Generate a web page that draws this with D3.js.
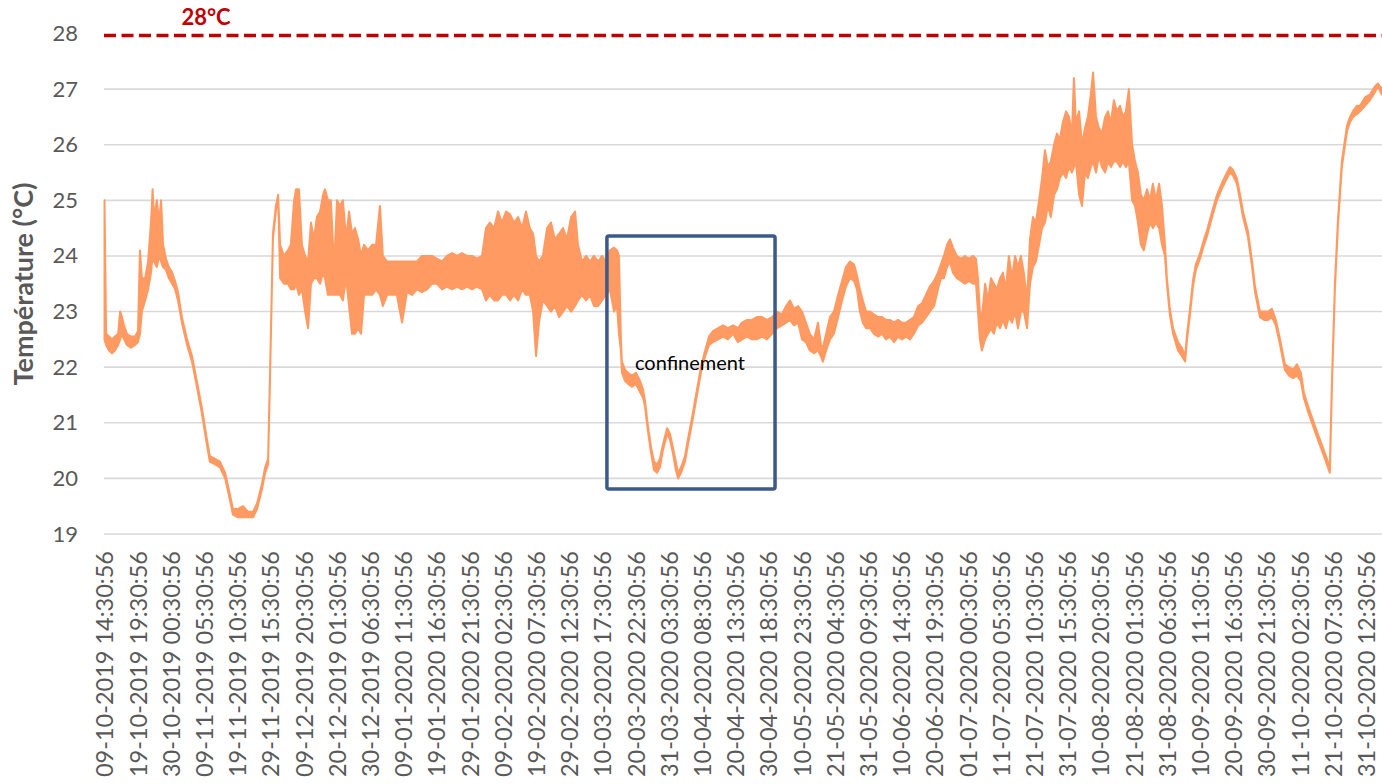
<!DOCTYPE html>
<html lang="fr">
<head>
<meta charset="UTF-8" />
<title>Température</title>
<script src="https://d3js.org/d3.v7.min.js"></script>
<style>
  body { margin: 0; background: #fff; }
  svg { display: block; font-family: Lato, "Open Sans", sans-serif; }
</style>
</head>
<body>
<div id="chart"></div>
<script>
  // x labels (one every 10 days 5 hours)
  const tickLabels = [
    "09-10-2019 14:30:56", "19-10-2019 19:30:56", "30-10-2019 00:30:56", "09-11-2019 05:30:56",
    "19-11-2019 10:30:56", "29-11-2019 15:30:56", "09-12-2019 20:30:56", "20-12-2019 01:30:56",
    "30-12-2019 06:30:56", "09-01-2020 11:30:56", "19-01-2020 16:30:56", "29-01-2020 21:30:56",
    "09-02-2020 02:30:56", "19-02-2020 07:30:56", "29-02-2020 12:30:56", "10-03-2020 17:30:56",
    "20-03-2020 22:30:56", "31-03-2020 03:30:56", "10-04-2020 08:30:56", "20-04-2020 13:30:56",
    "30-04-2020 18:30:56", "10-05-2020 23:30:56", "21-05-2020 04:30:56", "31-05-2020 09:30:56",
    "10-06-2020 14:30:56", "20-06-2020 19:30:56", "01-07-2020 00:30:56", "11-07-2020 05:30:56",
    "21-07-2020 10:30:56", "31-07-2020 15:30:56", "10-08-2020 20:30:56", "21-08-2020 01:30:56",
    "31-08-2020 06:30:56", "10-09-2020 11:30:56", "20-09-2020 16:30:56", "30-09-2020 21:30:56",
    "11-10-2020 02:30:56", "21-10-2020 07:30:56", "31-10-2020 12:30:56"
  ];

  const yTicks = [19, 20, 21, 22, 23, 24, 25, 26, 27, 28];
  const limitTemp = 28;

  // confinement box: days since start, temperatures
  const confDays = [154.5, 206.2];
  const confTemps = [19.81, 24.36];

  // days since 09-10-2019 14:30:56, with min / max temperature seen around that time
  const day = [
    0, 0.5, 1.4, 2.3, 3.2, 4.2, 4.8, 5.4, 6.0, 6.9, 8.1, 9.4, 10.3, 10.9, 11.5, 12.5, 13.4, 14.3, 14.8, 15.2,
    16.1, 16.8, 17.4, 18.0, 18.9, 19.8, 20.8, 21.7, 22.6, 23.8, 25.4, 26.9, 28.4, 30.0, 31.5, 32.4, 34.0, 35.5, 37.1, 38.6,
    39.5, 41.1, 42.6, 44.1, 45.7, 46.9, 48.4, 49.4, 50.3, 50.9, 51.8, 52.7, 53.4, 54.0, 55.2, 56.4, 57.3, 58.3, 58.9, 59.8,
    60.7, 61.7, 62.6, 63.5, 64.4, 65.3, 66.3, 67.2, 67.8, 68.7, 69.6, 70.6, 71.5, 72.4, 73.3, 74.3, 75.2, 76.1, 77.0, 78.0,
    78.9, 79.8, 81.0, 82.3, 83.5, 84.7, 85.6, 86.9, 88.4, 89.9, 91.5, 93.0, 94.6, 96.1, 97.6, 99.2, 100.7, 102.2, 103.8, 105.3,
    106.9, 108.4, 109.9, 111.5, 113.0, 114.5, 116.1, 117.3, 118.5, 119.8, 121.0, 122.2, 123.5, 124.7, 125.9, 127.2, 128.4, 129.6, 130.8, 131.8,
    132.7, 133.6, 134.8, 136.1, 137.3, 138.5, 139.8, 141.0, 142.2, 143.5, 144.7, 145.6, 146.8, 148.1, 149.3, 150.5, 151.8, 153.0, 154.2, 155.4,
    156.7, 157.6, 158.2, 158.8, 159.1, 160.1, 161.0, 162.2, 163.4, 164.7, 165.6, 166.2, 167.1, 168.1, 169.0, 169.9, 170.8, 171.7, 173.0, 173.9,
    174.8, 175.7, 176.4, 177.3, 178.5, 179.4, 180.7, 181.6, 182.5, 183.4, 184.7, 185.9, 187.1, 188.7, 190.2, 191.7, 193.3, 194.8, 196.0, 197.6,
    199.1, 200.6, 202.2, 203.7, 205.3, 206.8, 208.3, 209.6, 210.8, 212.0, 213.3, 214.5, 215.7, 216.9, 218.2, 219.4, 220.3, 220.9, 221.9, 223.1,
    224.3, 225.6, 226.8, 228.0, 229.2, 230.5, 231.4, 232.3, 233.2, 234.2, 235.4, 236.6, 237.9, 239.1, 240.3, 241.5, 242.8, 244.0, 245.2, 246.5,
    247.7, 248.9, 250.2, 251.4, 252.6, 253.8, 255.1, 256.3, 257.2, 258.1, 259.1, 260.0, 260.9, 262.1, 263.4, 264.6, 265.8, 267.1, 268.0, 268.6,
    269.2, 269.8, 270.8, 271.7, 272.6, 273.5, 274.4, 275.4, 276.3, 277.2, 278.1, 279.1, 280.0, 280.9, 281.8, 282.7, 283.7, 284.6, 285.5, 286.4,
    287.4, 288.3, 289.2, 290.1, 291.0, 292.0, 292.9, 293.8, 294.7, 295.7, 296.6, 297.5, 298.1, 298.7, 299.7, 300.6, 301.5, 302.4, 303.3, 304.0,
    304.9, 305.8, 306.7, 307.7, 308.6, 309.5, 310.4, 311.3, 312.3, 313.2, 314.1, 315.0, 316.0, 316.9, 317.8, 318.7, 319.6, 320.6, 321.5, 322.4,
    323.3, 324.3, 325.2, 326.1, 326.7, 327.6, 328.6, 330.1, 331.3, 332.3, 332.9, 333.8, 334.7, 335.6, 336.9, 338.1, 339.0, 340.6, 342.1, 343.9,
    345.2, 346.1, 347.0, 348.2, 349.2, 350.1, 351.6, 352.9, 353.8, 355.3, 356.6, 357.8, 359.0, 360.2, 361.5, 363.0, 364.2, 365.5, 366.7, 367.9,
    368.8, 370.1, 371.6, 373.1, 374.7, 375.9, 376.8, 377.5, 378.4, 379.3, 380.5, 382.1, 383.0, 383.9, 385.1, 386.1, 387.6, 389.1, 390.7, 391.6,
    392.8
  ];

  const tLow = [
    22.5, 22.4, 22.3, 22.25, 22.3, 22.4, 22.5, 22.6, 22.5, 22.4, 22.35, 22.4, 22.45, 22.6, 23.0, 23.2, 23.4, 23.7, 24.0, 23.9,
    23.8, 24.0, 23.9, 23.8, 23.75, 23.6, 23.5, 23.4, 23.2, 22.8, 22.4, 22.1, 21.65, 21.15, 20.6, 20.3, 20.25, 20.2, 20.0, 19.6,
    19.35, 19.3, 19.3, 19.3, 19.3, 19.45, 19.8, 20.1, 20.25, 21.8, 24.3, 24.8, 25.05, 23.6, 23.5, 23.5, 23.4, 23.4, 23.5, 23.3,
    23.4, 23.0, 22.7, 23.5, 23.6, 23.6, 23.5, 23.7, 23.6, 23.3, 23.3, 23.3, 23.3, 23.3, 23.2, 23.6, 23.1, 22.6, 22.6, 22.7,
    22.6, 23.3, 23.3, 23.3, 23.4, 23.3, 23.1, 23.3, 23.3, 23.3, 22.8, 23.35, 23.3, 23.4, 23.35, 23.4, 23.5, 23.5, 23.4, 23.45,
    23.4, 23.45, 23.4, 23.45, 23.4, 23.45, 23.4, 23.2, 23.3, 23.2, 23.2, 23.3, 23.3, 23.2, 23.3, 23.2, 23.4, 23.3, 23.3, 23.0,
    22.2, 22.8, 23.2, 23.1, 23.0, 23.1, 22.9, 23.0, 23.1, 23.0, 23.1, 23.2, 23.3, 23.2, 23.3, 23.1, 23.1, 23.2, 23.3, 23.4,
    23.0, 23.1, 22.6, 22.3, 21.9, 21.75, 21.7, 21.65, 21.7, 21.55, 21.45, 21.3, 20.85, 20.45, 20.15, 20.1, 20.2, 20.5, 20.8, 20.7,
    20.45, 20.15, 20.0, 20.1, 20.3, 20.6, 21.0, 21.3, 21.6, 21.9, 22.2, 22.4, 22.45, 22.5, 22.55, 22.5, 22.6, 22.45, 22.5, 22.55,
    22.5, 22.5, 22.55, 22.5, 22.6, 22.7, 22.75, 22.8, 22.85, 22.75, 22.8, 22.5, 22.45, 22.3, 22.25, 22.3, 22.2, 22.1, 22.3, 22.5,
    22.6, 22.9, 23.2, 23.45, 23.6, 23.55, 23.4, 23.0, 22.8, 22.7, 22.7, 22.6, 22.55, 22.6, 22.5, 22.55, 22.45, 22.55, 22.5, 22.55,
    22.5, 22.6, 22.75, 22.8, 22.9, 23.0, 23.1, 23.4, 23.6, 23.6, 23.8, 23.9, 23.7, 23.6, 23.55, 23.5, 23.55, 23.5, 23.5, 23.0,
    22.5, 22.3, 22.5, 22.6, 22.7, 22.6, 22.8, 22.7, 22.85, 22.7, 22.9, 22.8, 23.0, 22.7, 23.0, 23.0, 22.7, 23.5, 23.8, 23.9,
    24.2, 24.5, 24.6, 24.9, 24.7, 25.1, 25.2, 25.4, 25.5, 25.4, 25.6, 25.5, 25.6, 25.7, 25.1, 24.9, 25.5, 25.4, 25.6, 25.7,
    25.5, 25.8, 25.6, 25.5, 25.7, 25.6, 25.7, 25.7, 25.6, 25.7, 25.6, 25.7, 25.0, 24.9, 24.6, 24.2, 24.1, 24.4, 24.6, 24.5,
    24.6, 24.5, 24.2, 24.0, 23.5, 22.95, 22.6, 22.3, 22.2, 22.1, 22.5, 22.95, 23.45, 23.75, 23.95, 24.2, 24.35, 24.7, 25.0, 25.25,
    25.4, 25.5, 25.45, 25.3, 25.0, 24.7, 24.35, 23.8, 23.35, 22.9, 22.85, 22.85, 22.9, 22.75, 22.4, 21.95, 21.85, 21.8, 21.85, 21.75,
    21.45, 21.2, 20.95, 20.7, 20.45, 20.25, 20.1, 21.75, 23.45, 24.55, 25.6, 26.25, 26.4, 26.5, 26.55, 26.6, 26.7, 26.8, 26.95, 27.05,
    26.9
  ];

  const tHigh = [
    25.0, 22.6, 22.55, 22.5, 22.55, 22.6, 23.0, 22.9, 22.75, 22.6, 22.55, 22.55, 22.65, 24.1, 23.6, 23.6, 23.9, 24.6, 25.2, 24.7,
    25.0, 24.6, 25.0, 24.2, 23.95, 23.8, 23.7, 23.55, 23.35, 22.9, 22.5, 22.2, 21.75, 21.25, 20.7, 20.4, 20.35, 20.3, 20.1, 19.7,
    19.45, 19.45, 19.5, 19.4, 19.4, 19.55, 19.9, 20.2, 20.35, 21.9, 24.4, 24.9, 25.1, 24.2, 24.0, 24.1, 24.2, 25.0, 25.2, 25.2,
    24.2, 24.0, 23.9, 24.6, 24.3, 24.7, 24.8, 25.1, 25.2, 25.0, 25.0, 23.8, 25.0, 24.9, 25.0, 24.3, 24.8, 24.4, 24.5, 24.3,
    24.0, 24.2, 24.1, 24.2, 24.2, 24.9, 24.0, 23.9, 23.9, 23.9, 23.9, 23.9, 23.9, 23.9, 24.0, 24.0, 24.0, 23.95, 23.9, 24.0,
    24.05, 24.0, 24.05, 24.0, 24.0, 23.95, 24.0, 24.5, 24.6, 24.5, 24.8, 24.6, 24.8, 24.75, 24.6, 24.7, 24.5, 24.8, 24.5, 24.4,
    24.0, 23.9, 24.0, 24.5, 24.6, 24.3, 24.4, 24.5, 24.3, 24.7, 24.8, 24.2, 23.9, 24.0, 23.9, 24.0, 23.9, 24.0, 23.9, 24.1,
    24.15, 24.1, 24.0, 22.5, 22.1, 21.95, 21.9, 21.85, 21.9, 21.75, 21.6, 21.4, 20.95, 20.55, 20.3, 20.25, 20.35, 20.6, 20.9, 20.8,
    20.55, 20.3, 20.1, 20.2, 20.4, 20.7, 21.1, 21.4, 21.7, 22.0, 22.3, 22.55, 22.65, 22.7, 22.75, 22.7, 22.75, 22.7, 22.8, 22.85,
    22.85, 22.9, 22.9, 22.85, 22.9, 23.0, 22.95, 23.1, 23.2, 23.05, 23.1, 23.0, 22.8, 22.6, 22.5, 22.8, 22.4, 22.35, 22.6, 22.9,
    23.0, 23.3, 23.55, 23.8, 23.9, 23.85, 23.65, 23.4, 23.2, 23.0, 23.0, 22.95, 22.9, 22.9, 22.85, 22.85, 22.8, 22.85, 22.8, 22.8,
    22.85, 22.9, 23.1, 23.15, 23.3, 23.45, 23.55, 23.7, 23.85, 24.0, 24.2, 24.3, 24.15, 24.0, 23.95, 24.0, 23.95, 24.0, 23.95, 23.6,
    23.0, 22.9, 23.5, 23.2, 23.6, 23.5, 23.4, 23.6, 23.7, 23.4, 24.0, 23.6, 24.0, 23.8, 24.0, 23.7, 23.2, 24.3, 24.7, 24.6,
    25.0, 25.4, 25.9, 25.6, 25.7, 26.0, 26.2, 26.1, 26.4, 26.6, 26.5, 26.2, 27.2, 26.4, 26.6, 26.0, 26.3, 26.5, 26.9, 27.3,
    26.5, 26.3, 26.2, 26.5, 26.6, 26.4, 26.8, 26.6, 26.7, 26.5, 26.6, 27.0, 26.0, 25.7, 25.5, 25.1, 25.0, 25.2, 25.0, 25.3,
    25.0, 25.3, 24.9, 24.2, 23.6, 23.05, 22.7, 22.45, 22.35, 22.2, 22.6, 23.05, 23.55, 23.85, 24.05, 24.3, 24.45, 24.8, 25.1, 25.35,
    25.5, 25.6, 25.55, 25.4, 25.1, 24.8, 24.45, 23.9, 23.45, 23.0, 23.0, 23.0, 23.05, 22.85, 22.5, 22.05, 22.0, 21.95, 22.05, 21.9,
    21.55, 21.3, 21.05, 20.8, 20.55, 20.35, 20.2, 21.85, 23.55, 24.65, 25.7, 26.35, 26.5, 26.6, 26.7, 26.7, 26.85, 26.9, 27.05, 27.1,
    27.0
  ];

  const W = 1382, H = 784;
  const svg = d3.select("#chart").append("svg")
    .attr("width", W)
    .attr("height", H);

  const x = d3.scaleLinear().domain([0, 393]).range([104.5, 1382.5]);
  const y = d3.scaleLinear().domain([19, 28]).range([534, 33.5]);

  const parse = d3.utcParse("%d-%m-%Y %H:%M:%S");
  const t0 = parse(tickLabels[0]);
  const tickDays = tickLabels.map(s => (parse(s) - t0) / 864e5);

  // gridlines
  svg.append("g")
    .selectAll("line")
    .data(yTicks.filter(d => d < limitTemp))
    .join("line")
    .attr("x1", 104).attr("x2", W)
    .attr("y1", d => y(d)).attr("y2", d => y(d))
    .attr("stroke", "#d9d9d9")
    .attr("stroke-width", 1.6);

  // y axis labels
  const yAxis = svg.append("g")
    .attr("transform", "translate(104,0)")
    .call(d3.axisLeft(y).tickValues(yTicks).tickSize(0).tickPadding(26).tickFormat(d3.format("d")));
  yAxis.select(".domain").remove();
  yAxis.selectAll("text")
    .attr("fill", "#595959")
    .style("font-size", "22px")
    .style("font-family", "Lato, sans-serif");

  svg.append("text")
    .attr("transform", "translate(33,284) rotate(-90)")
    .attr("text-anchor", "middle")
    .attr("fill", "#595959")
    .style("font-size", "27px")
    .style("font-weight", "bold")
    .text("Température (°C)");

  // x axis labels
  const xAxis = svg.append("g")
    .attr("transform", "translate(0,534)")
    .call(d3.axisBottom(x).tickValues(tickDays).tickSize(0).tickFormat((d, i) => tickLabels[i]));
  xAxis.select(".domain").remove();
  xAxis.selectAll("text")
    .attr("transform", "rotate(-90)")
    .attr("x", -17)
    .attr("y", 0)
    .attr("dy", "0.36em")
    .style("text-anchor", "end")
    .attr("fill", "#595959")
    .style("font-size", "23.5px")
    .style("font-family", "Lato, sans-serif");

  // temperature trace
  const band = d3.area()
    .x((d, i) => x(day[i]))
    .y0((d, i) => y(tLow[i]))
    .y1((d, i) => y(tHigh[i]));

  svg.append("path")
    .datum(day)
    .attr("d", band)
    .attr("fill", "#ff9a62")
    .attr("stroke", "#ff9a62")
    .attr("stroke-width", 2)
    .attr("stroke-linejoin", "round");

  // 28°C limit
  svg.append("line")
    .attr("x1", 104).attr("x2", W)
    .attr("y1", y(limitTemp) + 2).attr("y2", y(limitTemp) + 2)
    .attr("stroke", "#c00000")
    .attr("stroke-width", 3.5)
    .attr("stroke-dasharray", "12,5.5");

  svg.append("text")
    .attr("x", 206)
    .attr("y", 25)
    .attr("text-anchor", "middle")
    .attr("fill", "#c00000")
    .style("font-size", "22px")
    .style("font-weight", "bold")
    .text("28°C");

  // confinement box
  svg.append("rect")
    .attr("x", x(confDays[0]))
    .attr("y", y(confTemps[1]))
    .attr("width", x(confDays[1]) - x(confDays[0]))
    .attr("height", y(confTemps[0]) - y(confTemps[1]))
    .attr("rx", 2)
    .attr("fill", "none")
    .attr("stroke", "#3b5a8a")
    .attr("stroke-width", 3.5);

  svg.append("text")
    .attr("x", 690)
    .attr("y", 370)
    .attr("text-anchor", "middle")
    .attr("fill", "#000")
    .style("font-size", "20px")
    .text("confinement");
</script>
</body>
</html>
